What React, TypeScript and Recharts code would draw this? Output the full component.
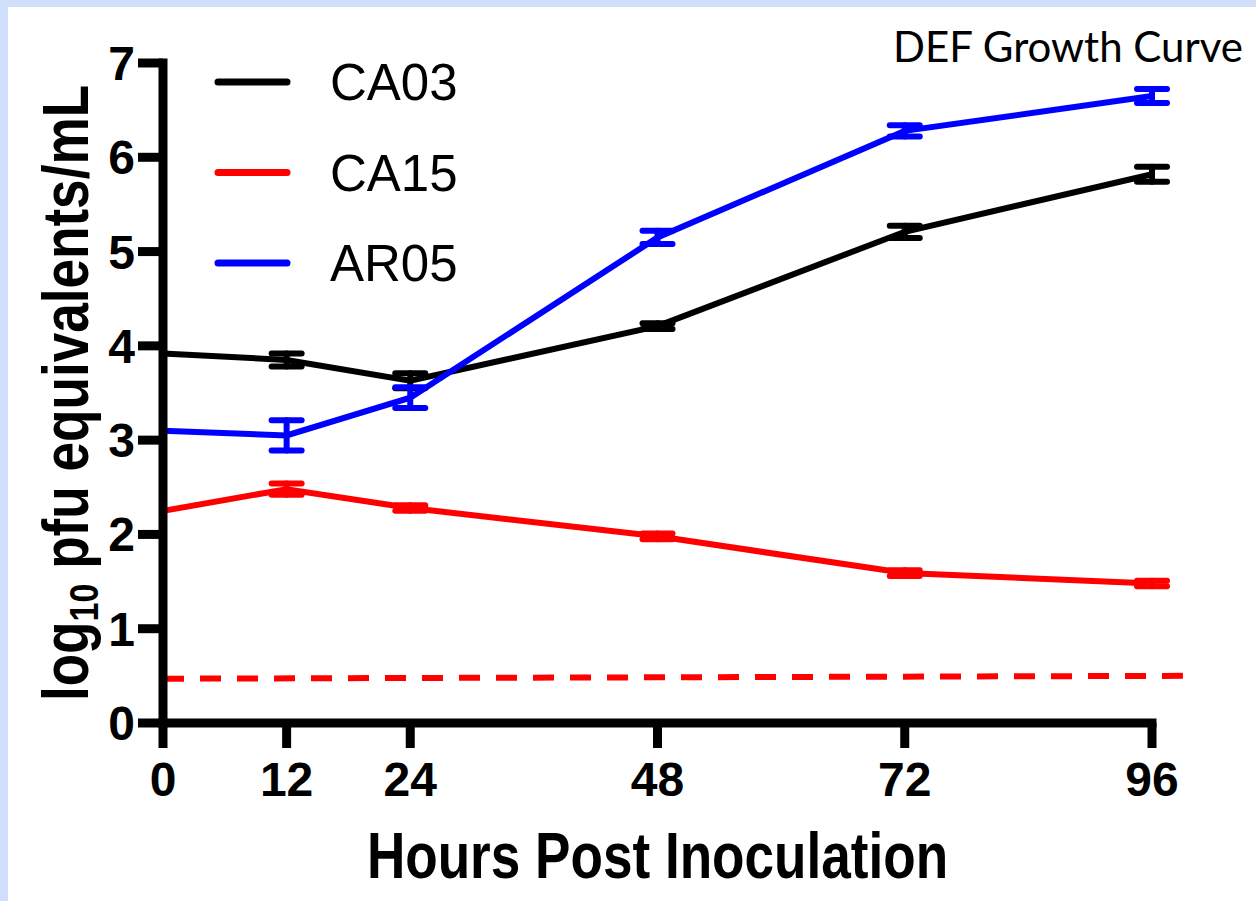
import {
  ErrorBar,
  Label,
  Legend,
  Line,
  LineChart,
  ReferenceLine,
  XAxis,
  YAxis,
} from "recharts";

// hours post inoculation
const hours = [0, 12, 24, 48, 72, 96];

// series, in legend order
const seriesNames = ["CA03", "CA15", "AR05"];

// log10 pfu equivalents/mL
const ca03 = [3.92, 3.85, 3.63, 4.21, 5.21, 5.82];
const ca03Err = [null, 0.07, 0.08, 0.03, 0.065, 0.08];
const ca15 = [2.25, 2.48, 2.28, 1.98, 1.59, 1.48];
const ca15Err = [null, 0.06, 0.03, 0.03, 0.03, 0.03];
const ar05 = [3.1, 3.05, 3.45, 5.15, 6.28, 6.65];
const ar05Err = [null, 0.16, 0.11, 0.07, 0.06, 0.075];

const yTicks = [0, 1, 2, 3, 4, 5, 6, 7];

// limit of detection (dashed red)
const limitX = [0, 99];
const limitY = [0.47, 0.5];

const data = hours.map((h, i) => ({
  hour: h,
  ca03: ca03[i],
  ca03Err: ca03Err[i],
  ca15: ca15[i],
  ca15Err: ca15Err[i],
  ar05: ar05[i],
  ar05Err: ar05Err[i],
}));

const SANS = "'Liberation Sans', Arial, sans-serif";

const axisLine = { stroke: "#000", strokeWidth: 9, strokeLinecap: "square" as const };
const tickLine = { stroke: "#000", strokeWidth: 9 };
const tickStyle = { fontSize: 48, fontWeight: 700, fill: "#000", fontFamily: SANS };

const renderLegend = (props: any) => {
  const items = [...(props.payload || [])].sort(
    (a: any, b: any) => seriesNames.indexOf(a.value) - seriesNames.indexOf(b.value)
  );
  return (
    <svg width={300} height={280}>
      {items.map((item: any, i: number) => {
        const cy = 45 + i * 90.5;
        return (
          <g key={item.value}>
            <line
              x1={18}
              x2={87}
              y1={cy}
              y2={cy}
              stroke={item.color}
              strokeWidth={7}
              strokeLinecap="round"
            />
            <text x={130} y={cy + 18} fontSize={51} fontFamily={SANS} fill="#000">
              {item.value}
            </text>
          </g>
        );
      })}
    </svg>
  );
};

// condensed bold title text (no narrow font installed, so squeeze it)
const YTitle = (props: any) => {
  const { viewBox } = props;
  const x = viewBox.x + 88;
  const y = viewBox.y + viewBox.height / 2;
  return (
    <text
      transform={`translate(${x}, ${y}) rotate(-90) scale(0.83, 1)`}
      x={0}
      y={0}
      textAnchor="middle"
      fontSize={64}
      fontWeight={700}
      fontFamily={SANS}
      fill="#000"
    >
      <tspan>log</tspan>
      <tspan fontSize={41} dy={10}>
        10
      </tspan>
      <tspan dy={-10}> pfu equivalents/mL</tspan>
    </text>
  );
};

const XTitle = (props: any) => {
  const { viewBox } = props;
  const x = viewBox.x + viewBox.width / 2;
  const y = viewBox.y + 155;
  return (
    <text
      transform={`translate(${x}, ${y}) scale(0.83, 1)`}
      x={0}
      y={0}
      textAnchor="middle"
      fontSize={64}
      fontWeight={700}
      fontFamily={SANS}
      fill="#000"
    >
      Hours Post Inoculation
    </text>
  );
};

export default function App() {
  return (
    <div
      style={{
        position: "absolute",
        left: 0,
        top: 0,
        width: 1256,
        height: 901,
        background: "#cfdefb",
        overflow: "hidden",
      }}
    >
      <div
        style={{
          position: "absolute",
          left: 8,
          top: 7,
          right: 0,
          bottom: 0,
          background: "#fff",
        }}
      />
      <div style={{ position: "absolute", left: 0, top: 0 }}>
        <LineChart
          width={1256}
          height={901}
          data={data}
          margin={{ top: 63, right: 104, bottom: 0, left: 0 }}
        >
          <XAxis
            dataKey="hour"
            type="number"
            domain={[0, 96]}
            ticks={hours}
            interval={0}
            height={178}
            tickSize={25}
            tickMargin={14}
            axisLine={axisLine}
            tickLine={tickLine}
            tick={tickStyle}
          >
            <Label content={XTitle} />
          </XAxis>
          <YAxis
            type="number"
            domain={[0, 7]}
            ticks={yTicks}
            interval={0}
            width={163}
            tickSize={25}
            tickMargin={3}
            axisLine={axisLine}
            tickLine={tickLine}
            tick={tickStyle}
          >
            <Label content={YTitle} />
          </YAxis>
          <ReferenceLine
            segment={[
              { x: limitX[0], y: limitY[0] },
              { x: limitX[1], y: limitY[1] },
            ]}
            stroke="#ff0000"
            strokeWidth={6}
            strokeDasharray="21 16"
            ifOverflow="visible"
          />
          <Legend
            layout="vertical"
            align="center"
            verticalAlign="middle"
            content={renderLegend}
            wrapperStyle={{ left: 200, top: 37, width: 300, height: 280 }}
          />
          <Line
            type="linear"
            dataKey="ca03"
            name="CA03"
            stroke="#000000"
            strokeWidth={6}
            dot={false}
            isAnimationActive={false}
          >
            <ErrorBar
              dataKey="ca03Err"
              width={15}
              stroke="#000000"
              strokeWidth={6}
              strokeLinecap="round"
            />
          </Line>
          <Line
            type="linear"
            dataKey="ca15"
            name="CA15"
            stroke="#ff0000"
            strokeWidth={6}
            dot={false}
            isAnimationActive={false}
          >
            <ErrorBar
              dataKey="ca15Err"
              width={15}
              stroke="#ff0000"
              strokeWidth={6}
              strokeLinecap="round"
            />
          </Line>
          <Line
            type="linear"
            dataKey="ar05"
            name="AR05"
            stroke="#0000ff"
            strokeWidth={6}
            dot={false}
            isAnimationActive={false}
          >
            <ErrorBar
              dataKey="ar05Err"
              width={15}
              stroke="#0000ff"
              strokeWidth={6}
              strokeLinecap="round"
            />
          </Line>
        </LineChart>
      </div>
      <div
        style={{
          position: "absolute",
          right: 13,
          top: 22,
          fontFamily: "Lato, 'Open Sans', sans-serif",
          fontSize: 42,
          lineHeight: "48px",
          color: "#000",
          whiteSpace: "nowrap",
        }}
      >
        DEF Growth Curve
      </div>
    </div>
  );
}
